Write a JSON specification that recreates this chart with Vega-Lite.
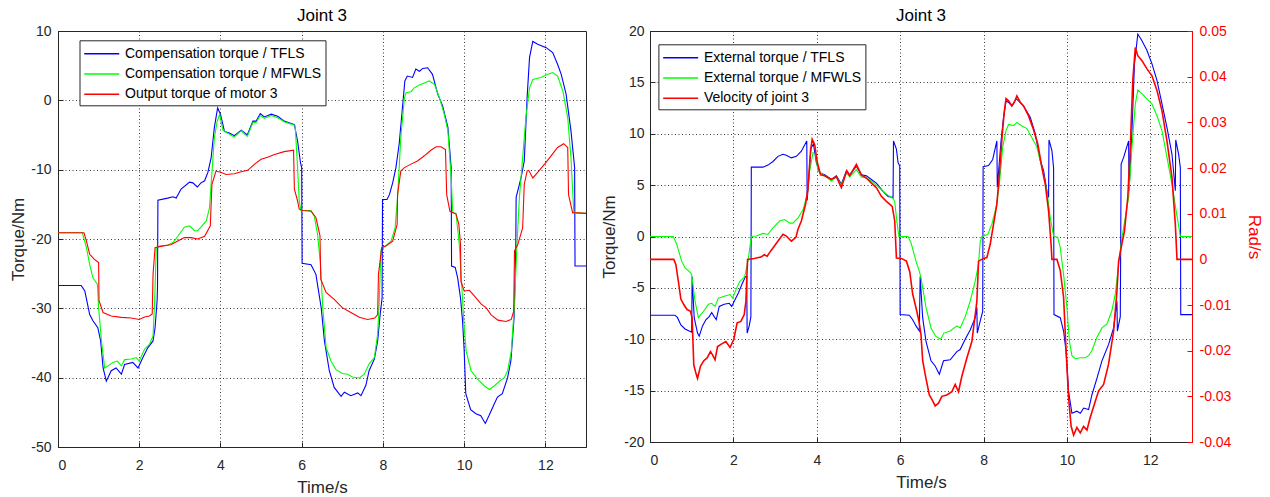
{
  "$schema": "https://vega.github.io/schema/vega-lite/v6.json",
  "padding": {"left": 8, "top": 6, "right": 2, "bottom": 2},
  "background": "white",
  "config": {
    "font": "Liberation Sans",
    "view": {"stroke": "#262626", "strokeWidth": 1},
    "locale": {"number": {"decimal": ".", "thousands": ",", "grouping": [3], "currency": ["$", ""], "minus": "-"}},
    "axis": {
      "labelFont": "Liberation Sans", "labelFontSize": 14, "labelColor": "#262626",
      "titleFont": "Liberation Sans", "titleFontSize": 17, "titleFontWeight": "normal", "titleColor": "#262626",
      "domainColor": "#262626", "tickColor": "#262626", "tickSize": -5,
      "gridColor": "#262626", "gridDash": [1, 2.5], "gridOpacity": 0.9
    },
    "axisX": {"labelPadding": 16, "titlePadding": 7.5},
    "legend": {
      "orient": "none", "title": null, "symbolType": "M-1,0H3", "symbolSize": 306, "symbolStrokeWidth": 1.4,
      "labelFont": "Liberation Sans", "labelFontSize": 14, "labelColor": "#000000", "labelLimit": 500,
      "strokeColor": "#262626", "fillColor": "white", "padding": 4, "rowPadding": 3.2, "labelOffset": 22.5
    },
    "title": {"font": "Liberation Sans", "fontSize": 17, "fontWeight": "normal", "color": "#000000", "anchor": "middle", "frame": "group", "offset": -1}
  },
  "spacing": 64,
  "bounds": "flush",
  "resolve": {"scale": {"color": "independent"}, "legend": {"color": "independent"}},
  "hconcat": [
    {
      "width": 528, "height": 416,
      "title": {"text": "Joint 3", "anchor": "middle", "frame": "group"},
      "layer": [
        {
          "data": {"name": "lb"},
          "mark": {"type": "line", "strokeWidth": 1.1},
          "encoding": {
            "x": {"field": "t", "type": "quantitative", "scale": {"domain": [0, 13], "nice": false, "zero": false}, "axis": {"values": [0, 2, 4, 6, 8, 10, 12], "title": "Time/s"}},
            "y": {"field": "v", "type": "quantitative", "scale": {"domain": [-50, 10], "nice": false, "zero": false}, "axis": {"values": [-50, -40, -30, -20, -10, 0, 10], "title": "Torque/Nm", "labelPadding": 12, "titlePadding": 3.5}},
            "color": {"datum": "Compensation torque / TFLS", "type": "nominal",
              "scale": {"domain": ["Compensation torque / TFLS", "Compensation torque / MFWLS", "Output torque of motor 3"], "range": ["#0000ff", "#00ff00", "#ff0000"]},
              "legend": {"legendX": 21.5, "legendY": 9.3, "labelExpr": "datum.label + '\u00a0\u00a0\u00a0\u00a0\u00a0'"}}
          }
        },
        {
          "data": {"name": "lg"},
          "mark": {"type": "line", "strokeWidth": 1.1},
          "encoding": {
            "x": {"field": "t", "type": "quantitative"},
            "y": {"field": "v", "type": "quantitative"},
            "color": {"datum": "Compensation torque / MFWLS", "type": "nominal"}
          }
        },
        {
          "data": {"name": "lr"},
          "mark": {"type": "line", "strokeWidth": 1.1},
          "encoding": {
            "x": {"field": "t", "type": "quantitative"},
            "y": {"field": "v", "type": "quantitative"},
            "color": {"datum": "Output torque of motor 3", "type": "nominal"}
          }
        }
      ]
    },
    {
      "width": 542, "height": 411,
      "title": {"text": "Joint 3", "anchor": "middle", "frame": "group"},
      "resolve": {"scale": {"y": "independent"}},
      "layer": [
        {
          "layer": [
            {
              "data": {"name": "rb"},
              "mark": {"type": "line", "strokeWidth": 1.1},
              "encoding": {
                "x": {"field": "t", "type": "quantitative", "scale": {"domain": [0, 13], "nice": false, "zero": false}, "axis": {"values": [0, 2, 4, 6, 8, 10, 12], "title": "Time/s"}},
                "y": {"field": "v", "type": "quantitative", "scale": {"domain": [-20, 20], "nice": false, "zero": false}, "axis": {"values": [-20, -15, -10, -5, 0, 5, 10, 15, 20], "title": "Torque/Nm", "labelPadding": 11, "titlePadding": 5.7}},
                "color": {"datum": "External torque / TFLS", "type": "nominal",
                  "scale": {"domain": ["External torque / TFLS", "External torque / MFWLS", "Velocity of joint 3"], "range": ["#0000ff", "#00ff00", "#ff0000"]},
                  "legend": {"legendX": 8.4, "legendY": 13.3, "labelExpr": "datum.label + '\u00a0\u00a0\u00a0\u00a0\u00a0\u00a0\u00a0'"}}
              }
            },
            {
              "data": {"name": "rg"},
              "mark": {"type": "line", "strokeWidth": 1.1},
              "encoding": {
                "x": {"field": "t", "type": "quantitative"},
                "y": {"field": "v", "type": "quantitative"},
                "color": {"datum": "External torque / MFWLS", "type": "nominal"}
              }
            }
          ]
        },
        {
          "data": {"name": "rr"},
          "mark": {"type": "line", "strokeWidth": 1.6},
          "encoding": {
            "x": {"field": "t", "type": "quantitative"},
            "y": {"field": "r", "type": "quantitative", "scale": {"domain": [-0.04, 0.05], "nice": false, "zero": false},
              "axis": {"orient": "right", "values": [-0.04, -0.03, -0.02, -0.01, 0, 0.01, 0.02, 0.03, 0.04, 0.05], "format": ".2~f", "title": "Rad/s", "grid": false, "labelPadding": 12, "titlePadding": 14,
                "domainColor": "#ff0000", "tickColor": "#ff0000", "labelColor": "#ff0000", "titleColor": "#ff0000"}},
            "color": {"datum": "Velocity of joint 3", "type": "nominal"}
          }
        }
      ]
    }
  ],
  "datasets": {
    "lb": [
      {"t":0,"v":-26.7},{"t":0.57,"v":-26.7},{"t":0.66,"v":-27.5},{"t":0.78,"v":-30.9},{"t":0.86,"v":-31.8},{"t":0.98,"v":-32.8},{"t":1.05,"v":-34.7},{"t":1.11,"v":-38.6},{"t":1.19,"v":-40.5},{"t":1.31,"v":-39},{"t":1.43,"v":-38.6},{"t":1.56,"v":-39.5},{"t":1.64,"v":-38.1},{"t":1.84,"v":-37.8},{"t":1.97,"v":-38.6},{"t":2.09,"v":-37.1},{"t":2.21,"v":-35.7},{"t":2.34,"v":-34.7},{"t":2.39,"v":-32.8},{"t":2.44,"v":-28.9},{"t":2.45,"v":-27},{"t":2.46,"v":-14.4},{"t":2.7,"v":-14.1},{"t":2.83,"v":-13.9},{"t":2.91,"v":-14.1},{"t":3.03,"v":-12.8},{"t":3.24,"v":-11.8},{"t":3.32,"v":-11.9},{"t":3.43,"v":-12.5},{"t":3.52,"v":-11.9},{"t":3.61,"v":-11.6},{"t":3.69,"v":-10.4},{"t":3.77,"v":-8.3},{"t":3.85,"v":-3.9},{"t":3.93,"v":-1.1},{"t":4.0,"v":-2.0},{"t":4.1,"v":-4.5},{"t":4.22,"v":-4.7},{"t":4.34,"v":-5.1},{"t":4.51,"v":-4.3},{"t":4.66,"v":-5.0},{"t":4.8,"v":-3.0},{"t":4.88,"v":-3.0},{"t":4.98,"v":-1.9},{"t":5.08,"v":-2.4},{"t":5.25,"v":-2.0},{"t":5.41,"v":-2.3},{"t":5.57,"v":-3.0},{"t":5.82,"v":-3.5},{"t":5.9,"v":-5.9},{"t":5.97,"v":-9.0},{"t":6.0,"v":-9.7},{"t":6.01,"v":-23.5},{"t":6.23,"v":-23.7},{"t":6.35,"v":-25.1},{"t":6.48,"v":-29.9},{"t":6.56,"v":-34.7},{"t":6.68,"v":-39},{"t":6.8,"v":-41.4},{"t":6.97,"v":-42.7},{"t":7.05,"v":-42.1},{"t":7.21,"v":-42.6},{"t":7.38,"v":-42.2},{"t":7.46,"v":-42.6},{"t":7.58,"v":-41.1},{"t":7.66,"v":-39.0},{"t":7.79,"v":-37.3},{"t":7.87,"v":-34.7},{"t":7.93,"v":-31},{"t":7.98,"v":-28.5},{"t":7.99,"v":-14.3},{"t":8.1,"v":-14.3},{"t":8.16,"v":-13.6},{"t":8.24,"v":-11.9},{"t":8.32,"v":-9.7},{"t":8.4,"v":-6.3},{"t":8.48,"v":-1.1},{"t":8.54,"v":2.8},{"t":8.6,"v":3.5},{"t":8.73,"v":3.3},{"t":8.81,"v":4.5},{"t":8.9,"v":4.2},{"t":8.98,"v":4.6},{"t":9.1,"v":4.7},{"t":9.22,"v":3.75},{"t":9.35,"v":0.9},{"t":9.47,"v":-0.8},{"t":9.6,"v":-3.9},{"t":9.68,"v":-9.7},{"t":9.69,"v":-23.9},{"t":9.78,"v":-24.1},{"t":9.84,"v":-25.6},{"t":9.91,"v":-28.5},{"t":9.96,"v":-31.8},{"t":10.0,"v":-36},{"t":10.04,"v":-42.3},{"t":10.16,"v":-44.6},{"t":10.29,"v":-45.2},{"t":10.41,"v":-45.5},{"t":10.52,"v":-46.6},{"t":10.61,"v":-45.5},{"t":10.74,"v":-43.8},{"t":10.82,"v":-42.8},{"t":10.94,"v":-42.3},{"t":11.07,"v":-40},{"t":11.15,"v":-37.6},{"t":11.23,"v":-31.3},{"t":11.27,"v":-21.8},{"t":11.28,"v":-14.0},{"t":11.4,"v":-11.2},{"t":11.48,"v":-8.75},{"t":11.55,"v":0.4},{"t":11.61,"v":6.2},{"t":11.69,"v":8.5},{"t":11.81,"v":8.1},{"t":12.02,"v":7.6},{"t":12.18,"v":6.9},{"t":12.3,"v":5.2},{"t":12.39,"v":3.75},{"t":12.51,"v":0.9},{"t":12.63,"v":-4.4},{"t":12.72,"v":-9.7},{"t":12.73,"v":-23.9},{"t":13.0,"v":-23.9}
    ],
    "lg": [
      {"t":0,"v":-19.1},{"t":0.6,"v":-19.1},{"t":0.7,"v":-21.25},{"t":0.78,"v":-23.65},{"t":0.86,"v":-25.6},{"t":0.97,"v":-26.5},{"t":1.0,"v":-29.9},{"t":1.07,"v":-34.7},{"t":1.15,"v":-38.6},{"t":1.23,"v":-38.3},{"t":1.35,"v":-37.8},{"t":1.46,"v":-37.6},{"t":1.56,"v":-38.3},{"t":1.64,"v":-37.4},{"t":1.8,"v":-37.3},{"t":1.93,"v":-37.1},{"t":2.0,"v":-37.6},{"t":2.13,"v":-35.9},{"t":2.25,"v":-35.2},{"t":2.34,"v":-34},{"t":2.38,"v":-28.9},{"t":2.42,"v":-21.25},{"t":2.5,"v":-21.0},{"t":2.7,"v":-20.9},{"t":2.83,"v":-20.5},{"t":2.95,"v":-19.6},{"t":3.11,"v":-18.3},{"t":3.24,"v":-18.1},{"t":3.36,"v":-18.8},{"t":3.44,"v":-18.8},{"t":3.52,"v":-18.3},{"t":3.65,"v":-17.4},{"t":3.73,"v":-15.5},{"t":3.77,"v":-12.1},{"t":3.85,"v":-5.4},{"t":3.92,"v":-3.0},{"t":3.98,"v":-2.0},{"t":4.06,"v":-4.3},{"t":4.22,"v":-4.9},{"t":4.34,"v":-5.3},{"t":4.51,"v":-4.4},{"t":4.66,"v":-5.2},{"t":4.8,"v":-3.2},{"t":4.88,"v":-3.2},{"t":4.98,"v":-2.2},{"t":5.08,"v":-2.6},{"t":5.25,"v":-2.2},{"t":5.41,"v":-2.5},{"t":5.57,"v":-3.1},{"t":5.82,"v":-3.6},{"t":5.84,"v":-3.7},{"t":5.89,"v":-8.8},{"t":5.94,"v":-14.5},{"t":5.98,"v":-15.9},{"t":6.23,"v":-15.9},{"t":6.31,"v":-16.7},{"t":6.39,"v":-19.3},{"t":6.46,"v":-23.5},{"t":6.52,"v":-30},{"t":6.6,"v":-35.6},{"t":6.72,"v":-37.6},{"t":6.84,"v":-38.8},{"t":7.0,"v":-39.4},{"t":7.13,"v":-39.5},{"t":7.25,"v":-39.9},{"t":7.42,"v":-40.05},{"t":7.54,"v":-39.5},{"t":7.66,"v":-38.0},{"t":7.79,"v":-37.1},{"t":7.87,"v":-33.7},{"t":7.91,"v":-28.9},{"t":7.95,"v":-21.8},{"t":7.97,"v":-21.25},{"t":8.07,"v":-21.0},{"t":8.2,"v":-20.3},{"t":8.3,"v":-18.4},{"t":8.36,"v":-14},{"t":8.44,"v":-5.4},{"t":8.53,"v":0.4},{"t":8.57,"v":1.1},{"t":8.69,"v":1.25},{"t":8.77,"v":1.8},{"t":8.9,"v":2.2},{"t":9.02,"v":2.5},{"t":9.14,"v":2.8},{"t":9.27,"v":2.3},{"t":9.39,"v":0.4},{"t":9.51,"v":-2.0},{"t":9.6,"v":-4.4},{"t":9.68,"v":-11.2},{"t":9.72,"v":-16.2},{"t":9.8,"v":-16.3},{"t":9.88,"v":-20.8},{"t":9.94,"v":-26.5},{"t":9.99,"v":-31.8},{"t":10.05,"v":-36.2},{"t":10.17,"v":-39.0},{"t":10.33,"v":-40.2},{"t":10.5,"v":-41.2},{"t":10.62,"v":-41.7},{"t":10.74,"v":-41.2},{"t":10.87,"v":-40.5},{"t":10.99,"v":-40},{"t":11.07,"v":-39.0},{"t":11.16,"v":-36.2},{"t":11.24,"v":-29.4},{"t":11.3,"v":-20.8},{"t":11.36,"v":-14.0},{"t":11.44,"v":-8.3},{"t":11.52,"v":-2.5},{"t":11.61,"v":1.8},{"t":11.69,"v":3.0},{"t":11.89,"v":3.3},{"t":12.06,"v":3.75},{"t":12.18,"v":4.0},{"t":12.3,"v":3.5},{"t":12.43,"v":1.35},{"t":12.55,"v":-2.5},{"t":12.63,"v":-8.3},{"t":12.7,"v":-16.2},{"t":13.0,"v":-16.3}
    ],
    "lr": [
      {"t":0,"v":-19.1},{"t":0.64,"v":-19.1},{"t":0.7,"v":-20.3},{"t":0.78,"v":-22.2},{"t":0.89,"v":-22.9},{"t":1.0,"v":-23.4},{"t":1.01,"v":-28.9},{"t":1.11,"v":-30.6},{"t":1.31,"v":-31.1},{"t":1.56,"v":-31.3},{"t":1.8,"v":-31.4},{"t":2.0,"v":-31.6},{"t":2.13,"v":-31.25},{"t":2.25,"v":-31.1},{"t":2.32,"v":-30.8},{"t":2.34,"v":-25.1},{"t":2.39,"v":-21.25},{"t":2.5,"v":-21.1},{"t":2.79,"v":-20.8},{"t":2.95,"v":-20.3},{"t":3.11,"v":-19.8},{"t":3.28,"v":-19.8},{"t":3.44,"v":-20.0},{"t":3.61,"v":-19.6},{"t":3.75,"v":-18.1},{"t":3.79,"v":-12.1},{"t":3.89,"v":-10.2},{"t":4.02,"v":-10.4},{"t":4.14,"v":-10.7},{"t":4.34,"v":-10.6},{"t":4.51,"v":-10.3},{"t":4.67,"v":-10.1},{"t":4.84,"v":-9.2},{"t":5.0,"v":-8.5},{"t":5.16,"v":-8.2},{"t":5.33,"v":-7.8},{"t":5.57,"v":-7.4},{"t":5.8,"v":-7.2},{"t":5.82,"v":-12.8},{"t":5.89,"v":-14.3},{"t":5.94,"v":-15.7},{"t":6.02,"v":-15.9},{"t":6.23,"v":-16.0},{"t":6.35,"v":-16.9},{"t":6.45,"v":-19.5},{"t":6.47,"v":-25.8},{"t":6.6,"v":-27.7},{"t":6.8,"v":-28.7},{"t":7.0,"v":-29.9},{"t":7.21,"v":-30.6},{"t":7.42,"v":-31.3},{"t":7.62,"v":-31.6},{"t":7.8,"v":-31.4},{"t":7.87,"v":-30.9},{"t":7.89,"v":-25.1},{"t":7.97,"v":-21.25},{"t":8.07,"v":-21},{"t":8.24,"v":-20.3},{"t":8.35,"v":-17.9},{"t":8.36,"v":-13.6},{"t":8.44,"v":-10.2},{"t":8.53,"v":-9.7},{"t":8.69,"v":-9.2},{"t":8.85,"v":-8.75},{"t":9.02,"v":-8.0},{"t":9.18,"v":-7.2},{"t":9.31,"v":-6.7},{"t":9.43,"v":-6.7},{"t":9.54,"v":-7.1},{"t":9.57,"v":-13.6},{"t":9.65,"v":-16.0},{"t":9.8,"v":-16.4},{"t":9.87,"v":-17.9},{"t":9.91,"v":-20.8},{"t":9.92,"v":-26.1},{"t":10.0,"v":-27.5},{"t":10.13,"v":-27.4},{"t":10.25,"v":-28.2},{"t":10.42,"v":-29.4},{"t":10.54,"v":-29.9},{"t":10.66,"v":-30.9},{"t":10.83,"v":-31.7},{"t":11.03,"v":-31.9},{"t":11.16,"v":-31.6},{"t":11.22,"v":-30.4},{"t":11.24,"v":-21.7},{"t":11.32,"v":-20.8},{"t":11.44,"v":-18.4},{"t":11.48,"v":-12.1},{"t":11.55,"v":-10.2},{"t":11.59,"v":-10.1},{"t":11.69,"v":-11.2},{"t":11.81,"v":-10.4},{"t":11.98,"v":-9.2},{"t":12.14,"v":-8.0},{"t":12.3,"v":-6.8},{"t":12.45,"v":-6.25},{"t":12.55,"v":-6.8},{"t":12.57,"v":-13.6},{"t":12.67,"v":-16.2},{"t":13.0,"v":-16.3}
    ],
    "rb": [
      {"t":0,"v":-7.66},{"t":0.6,"v":-7.66},{"t":0.66,"v":-7.9},{"t":0.74,"v":-8.6},{"t":0.84,"v":-9.0},{"t":0.94,"v":-9.2},{"t":1.0,"v":-9.3},{"t":1.01,"v":-3.9},{"t":1.06,"v":-7.9},{"t":1.14,"v":-9.4},{"t":1.18,"v":-9.7},{"t":1.26,"v":-8.7},{"t":1.34,"v":-8.1},{"t":1.42,"v":-7.8},{"t":1.48,"v":-7.4},{"t":1.54,"v":-7.8},{"t":1.59,"v":-8.1},{"t":1.66,"v":-6.8},{"t":1.78,"v":-6.6},{"t":1.9,"v":-6.5},{"t":1.96,"v":-6.8},{"t":2.02,"v":-6.3},{"t":2.12,"v":-5.5},{"t":2.2,"v":-4.7},{"t":2.29,"v":-3.9},{"t":2.32,"v":-3.9},{"t":2.33,"v":-9.4},{"t":2.38,"v":-8.7},{"t":2.42,"v":-7.8},{"t":2.43,"v":6.75},{"t":2.71,"v":6.75},{"t":2.83,"v":6.95},{"t":2.95,"v":7.3},{"t":3.07,"v":7.8},{"t":3.19,"v":8.0},{"t":3.27,"v":7.9},{"t":3.39,"v":7.65},{"t":3.51,"v":7.8},{"t":3.63,"v":8.3},{"t":3.76,"v":9.3},{"t":3.77,"v":3.5},{"t":3.86,"v":8.6},{"t":3.92,"v":9.0},{"t":3.99,"v":7.2},{"t":4.07,"v":6.2},{"t":4.19,"v":6.0},{"t":4.35,"v":5.55},{"t":4.47,"v":5.9},{"t":4.59,"v":5.1},{"t":4.71,"v":6.4},{"t":4.79,"v":6.0},{"t":4.95,"v":6.85},{"t":5.07,"v":6.0},{"t":5.19,"v":5.9},{"t":5.31,"v":5.55},{"t":5.43,"v":5.2},{"t":5.59,"v":4.4},{"t":5.71,"v":3.9},{"t":5.83,"v":3.8},{"t":5.84,"v":9.3},{"t":5.91,"v":8.5},{"t":5.95,"v":7.2},{"t":5.99,"v":6.85},{"t":6.0,"v":-7.6},{"t":6.22,"v":-7.66},{"t":6.3,"v":-8.1},{"t":6.38,"v":-8.7},{"t":6.46,"v":-9.2},{"t":6.48,"v":-3.9},{"t":6.54,"v":-7.9},{"t":6.62,"v":-10.2},{"t":6.74,"v":-12.1},{"t":6.84,"v":-12.6},{"t":6.94,"v":-13.4},{"t":7.04,"v":-12.1},{"t":7.2,"v":-12.0},{"t":7.36,"v":-11.2},{"t":7.44,"v":-11.0},{"t":7.56,"v":-10.0},{"t":7.68,"v":-9.1},{"t":7.8,"v":-7.9},{"t":7.84,"v":-6.9},{"t":7.85,"v":-9.4},{"t":7.94,"v":-7.9},{"t":7.98,"v":-7.3},{"t":7.99,"v":6.8},{"t":8.12,"v":6.9},{"t":8.22,"v":7.5},{"t":8.32,"v":9.3},{"t":8.33,"v":4.8},{"t":8.42,"v":9.3},{"t":8.48,"v":11.6},{"t":8.54,"v":13.2},{"t":8.6,"v":13.05},{"t":8.68,"v":12.7},{"t":8.78,"v":13.4},{"t":8.84,"v":13.2},{"t":8.96,"v":12.7},{"t":9.12,"v":11.6},{"t":9.24,"v":10.0},{"t":9.36,"v":7.4},{"t":9.44,"v":6.4},{"t":9.52,"v":4.45},{"t":9.56,"v":3.8},{"t":9.57,"v":9.4},{"t":9.64,"v":8.35},{"t":9.68,"v":6.7},{"t":9.69,"v":-7.6},{"t":9.84,"v":-7.9},{"t":9.92,"v":-9.2},{"t":9.98,"v":-11.2},{"t":10.04,"v":-15.1},{"t":10.12,"v":-17.2},{"t":10.24,"v":-17.0},{"t":10.32,"v":-17.2},{"t":10.4,"v":-16.7},{"t":10.52,"v":-16.85},{"t":10.6,"v":-15.4},{"t":10.72,"v":-13.8},{"t":10.84,"v":-12.1},{"t":11.0,"v":-10.5},{"t":11.12,"v":-8.9},{"t":11.2,"v":-6.3},{"t":11.21,"v":-9.2},{"t":11.28,"v":-7.8},{"t":11.3,"v":7.05},{"t":11.36,"v":7.7},{"t":11.48,"v":9.3},{"t":11.49,"v":4.45},{"t":11.56,"v":10.3},{"t":11.62,"v":16.8},{"t":11.7,"v":19.7},{"t":11.8,"v":19.05},{"t":11.92,"v":18.1},{"t":12.04,"v":16.8},{"t":12.16,"v":15.2},{"t":12.28,"v":12.9},{"t":12.4,"v":10.6},{"t":12.52,"v":8.0},{"t":12.6,"v":4.45},{"t":12.61,"v":9.4},{"t":12.68,"v":8.0},{"t":12.72,"v":6.7},{"t":12.73,"v":-7.6},{"t":13.0,"v":-7.6}
    ],
    "rg": [
      {"t":0,"v":0},{"t":0.56,"v":0},{"t":0.64,"v":-0.75},{"t":0.76,"v":-2.4},{"t":0.84,"v":-3.05},{"t":0.94,"v":-3.4},{"t":1.0,"v":-3.7},{"t":1.08,"v":-6.3},{"t":1.16,"v":-7.9},{"t":1.28,"v":-7.3},{"t":1.4,"v":-6.6},{"t":1.48,"v":-6.5},{"t":1.56,"v":-6.8},{"t":1.64,"v":-6.0},{"t":1.8,"v":-5.8},{"t":1.92,"v":-5.65},{"t":1.98,"v":-6.0},{"t":2.08,"v":-5.0},{"t":2.15,"v":-4.4},{"t":2.27,"v":-3.9},{"t":2.35,"v":-2.4},{"t":2.43,"v":0.0},{"t":2.55,"v":0.05},{"t":2.71,"v":0.3},{"t":2.83,"v":0.2},{"t":2.95,"v":0.85},{"t":3.11,"v":1.5},{"t":3.23,"v":1.65},{"t":3.35,"v":1.3},{"t":3.43,"v":1.3},{"t":3.55,"v":1.8},{"t":3.67,"v":2.6},{"t":3.77,"v":4.1},{"t":3.83,"v":6.4},{"t":3.91,"v":8.15},{"t":3.97,"v":8.0},{"t":4.03,"v":6.4},{"t":4.19,"v":5.9},{"t":4.35,"v":5.4},{"t":4.47,"v":5.8},{"t":4.59,"v":5.0},{"t":4.71,"v":6.2},{"t":4.79,"v":5.8},{"t":4.95,"v":6.5},{"t":5.07,"v":5.8},{"t":5.19,"v":5.7},{"t":5.31,"v":5.4},{"t":5.43,"v":5.0},{"t":5.59,"v":4.4},{"t":5.71,"v":4.0},{"t":5.83,"v":3.7},{"t":5.87,"v":3.4},{"t":5.92,"v":1.5},{"t":5.97,"v":0},{"t":6.19,"v":0},{"t":6.26,"v":-0.6},{"t":6.38,"v":-2.4},{"t":6.46,"v":-3.4},{"t":6.5,"v":-4.0},{"t":6.62,"v":-6.9},{"t":6.74,"v":-8.9},{"t":6.85,"v":-9.7},{"t":6.97,"v":-10.0},{"t":7.05,"v":-9.4},{"t":7.2,"v":-9.2},{"t":7.36,"v":-8.7},{"t":7.44,"v":-8.9},{"t":7.56,"v":-7.8},{"t":7.68,"v":-6.3},{"t":7.8,"v":-4.35},{"t":7.88,"v":-2.7},{"t":7.92,"v":-0.5},{"t":7.96,"v":0},{"t":8.0,"v":0.05},{"t":8.1,"v":0.2},{"t":8.2,"v":1.2},{"t":8.3,"v":2.8},{"t":8.38,"v":5.1},{"t":8.46,"v":8.7},{"t":8.54,"v":10.3},{"t":8.6,"v":10.9},{"t":8.72,"v":10.8},{"t":8.8,"v":11.1},{"t":8.9,"v":10.8},{"t":9.04,"v":10.5},{"t":9.16,"v":9.6},{"t":9.28,"v":8.7},{"t":9.4,"v":6.7},{"t":9.52,"v":4.45},{"t":9.6,"v":1.85},{"t":9.68,"v":0.05},{"t":9.78,"v":-0.1},{"t":9.84,"v":-1.1},{"t":9.92,"v":-3.7},{"t":10.0,"v":-6.9},{"t":10.06,"v":-10.2},{"t":10.12,"v":-11.6},{"t":10.2,"v":-11.9},{"t":10.32,"v":-11.8},{"t":10.44,"v":-11.8},{"t":10.52,"v":-11.6},{"t":10.6,"v":-11.1},{"t":10.72,"v":-9.8},{"t":10.84,"v":-8.9},{"t":10.96,"v":-8.5},{"t":11.08,"v":-7.2},{"t":11.16,"v":-5.6},{"t":11.24,"v":-2.7},{"t":11.32,"v":-0.1},{"t":11.4,"v":1.85},{"t":11.48,"v":3.8},{"t":11.56,"v":8.7},{"t":11.64,"v":12.9},{"t":11.7,"v":14.25},{"t":11.8,"v":13.9},{"t":11.92,"v":13.4},{"t":12.04,"v":12.9},{"t":12.16,"v":11.75},{"t":12.28,"v":10.3},{"t":12.4,"v":7.7},{"t":12.52,"v":5.1},{"t":12.62,"v":2.5},{"t":12.72,"v":0},{"t":13.0,"v":0}
    ],
    "rr": [
      {"t":0,"r":0},{"t":0.57,"r":0},{"t":0.62,"r":-0.0011},{"t":0.68,"r":-0.0048},{"t":0.74,"r":-0.0087},{"t":0.81,"r":-0.0099},{"t":0.89,"r":-0.011},{"t":0.97,"r":-0.0114},{"t":1.01,"r":-0.0128},{"t":1.05,"r":-0.0231},{"t":1.1,"r":-0.0249},{"t":1.14,"r":-0.0261},{"t":1.21,"r":-0.0234},{"t":1.29,"r":-0.0222},{"t":1.37,"r":-0.0216},{"t":1.45,"r":-0.0202},{"t":1.5,"r":-0.0209},{"t":1.56,"r":-0.022},{"t":1.62,"r":-0.0191},{"t":1.72,"r":-0.0185},{"t":1.82,"r":-0.018},{"t":1.92,"r":-0.0193},{"t":2.01,"r":-0.0175},{"t":2.09,"r":-0.0139},{"t":2.18,"r":-0.0136},{"t":2.26,"r":-0.0121},{"t":2.3,"r":-0.0092},{"t":2.34,"r":0},{"t":2.5,"r":0.0002},{"t":2.66,"r":0.0005},{"t":2.74,"r":0.001},{"t":2.81,"r":0.0007},{"t":2.9,"r":0.0019},{"t":2.95,"r":0.0025},{"t":3.07,"r":0.004},{"t":3.19,"r":0.0055},{"t":3.27,"r":0.0051},{"t":3.39,"r":0.004},{"t":3.5,"r":0.0048},{"t":3.55,"r":0.0066},{"t":3.63,"r":0.0084},{"t":3.73,"r":0.012},{"t":3.79,"r":0.0156},{"t":3.85,"r":0.0237},{"t":3.89,"r":0.0263},{"t":3.95,"r":0.0251},{"t":4.01,"r":0.0214},{"t":4.09,"r":0.0185},{"t":4.19,"r":0.0183},{"t":4.35,"r":0.0175},{"t":4.47,"r":0.0181},{"t":4.59,"r":0.0157},{"t":4.72,"r":0.0194},{"t":4.79,"r":0.0183},{"t":4.95,"r":0.0208},{"t":5.07,"r":0.0185},{"t":5.19,"r":0.0178},{"t":5.31,"r":0.0167},{"t":5.43,"r":0.0157},{"t":5.55,"r":0.0138},{"t":5.67,"r":0.0127},{"t":5.81,"r":0.0116},{"t":5.87,"r":0.0084},{"t":5.91,"r":0.0003},{"t":6.03,"r":0.0002},{"t":6.15,"r":-0.0004},{"t":6.23,"r":-0.0027},{"t":6.3,"r":-0.0076},{"t":6.38,"r":-0.0106},{"t":6.45,"r":-0.0135},{"t":6.5,"r":-0.0165},{"t":6.54,"r":-0.0222},{"t":6.62,"r":-0.0261},{"t":6.7,"r":-0.0297},{"t":6.78,"r":-0.031},{"t":6.84,"r":-0.0321},{"t":6.92,"r":-0.0315},{"t":7.0,"r":-0.03},{"t":7.12,"r":-0.0297},{"t":7.24,"r":-0.029},{"t":7.32,"r":-0.0274},{"t":7.4,"r":-0.029},{"t":7.48,"r":-0.0256},{"t":7.6,"r":-0.0216},{"t":7.72,"r":-0.018},{"t":7.84,"r":-0.0092},{"t":7.88,"r":-0.0004},{"t":8.0,"r":0.0002},{"t":8.08,"r":0.0004},{"t":8.16,"r":0.0033},{"t":8.24,"r":0.0077},{"t":8.32,"r":0.0121},{"t":8.38,"r":0.0187},{"t":8.45,"r":0.0275},{"t":8.5,"r":0.0325},{"t":8.54,"r":0.0352},{"t":8.6,"r":0.0347},{"t":8.68,"r":0.0336},{"t":8.74,"r":0.0344},{"t":8.8,"r":0.0358},{"t":8.88,"r":0.0344},{"t":8.96,"r":0.0336},{"t":9.08,"r":0.0314},{"t":9.18,"r":0.0289},{"t":9.3,"r":0.0253},{"t":9.4,"r":0.0201},{"t":9.48,"r":0.0165},{"t":9.56,"r":0.0106},{"t":9.62,"r":0.0033},{"t":9.64,"r":0},{"t":9.76,"r":0},{"t":9.84,"r":-0.0024},{"t":9.92,"r":-0.0083},{"t":9.98,"r":-0.02},{"t":10.04,"r":-0.0303},{"t":10.1,"r":-0.0365},{"t":10.16,"r":-0.0385},{"t":10.24,"r":-0.0368},{"t":10.32,"r":-0.038},{"t":10.4,"r":-0.0366},{"t":10.48,"r":-0.0374},{"t":10.56,"r":-0.0346},{"t":10.66,"r":-0.0317},{"t":10.76,"r":-0.0288},{"t":10.88,"r":-0.0274},{"t":11.0,"r":-0.0229},{"t":11.12,"r":-0.0157},{"t":11.2,"r":-0.0069},{"t":11.24,"r":-0.0004},{"t":11.3,"r":0.0025},{"t":11.38,"r":0.0062},{"t":11.46,"r":0.0136},{"t":11.52,"r":0.0246},{"t":11.58,"r":0.0392},{"t":11.64,"r":0.0464},{"t":11.7,"r":0.0446},{"t":11.8,"r":0.0435},{"t":11.92,"r":0.0417},{"t":12.04,"r":0.0402},{"t":12.16,"r":0.037},{"t":12.28,"r":0.0325},{"t":12.4,"r":0.0259},{"t":12.52,"r":0.0179},{"t":12.6,"r":0.0077},{"t":12.64,"r":0},{"t":13.0,"r":0}
    ]
  }
}
